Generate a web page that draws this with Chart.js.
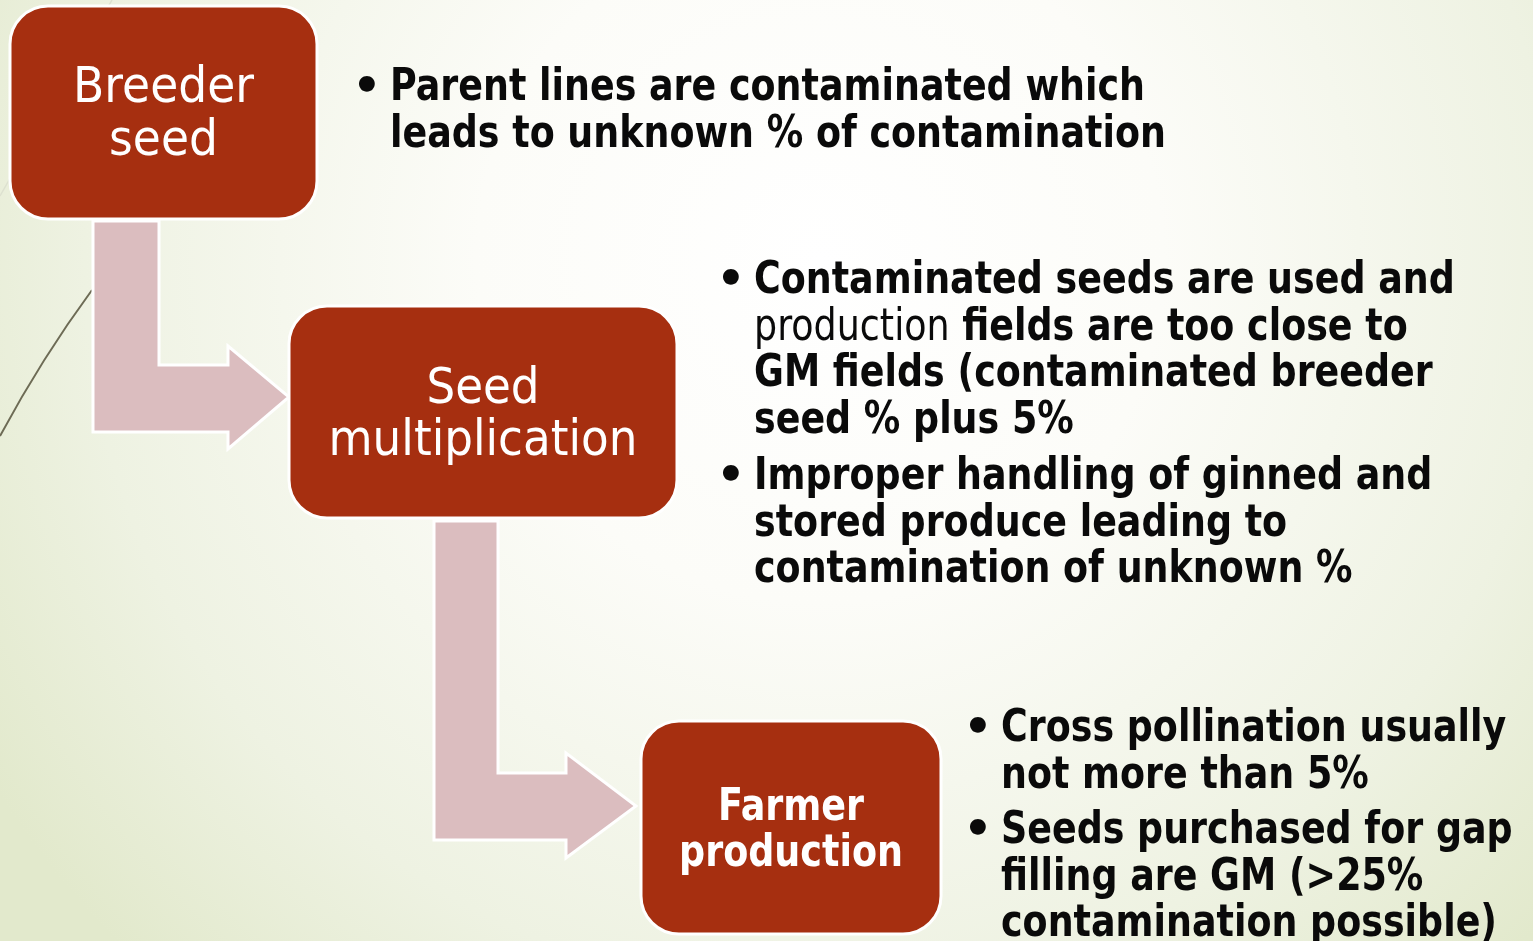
<!DOCTYPE html>
<html>
<head>
<meta charset="utf-8">
<script src="https://cdn.jsdelivr.net/npm/chart.js@4"></script>
<style>
  html, body { margin: 0; padding: 0; overflow: hidden; background: #fff; }
</style>
</head>
<body>
<canvas id="flow_Chart" width="1533" height="941"></canvas>
<script>
// labels of the three steps in the seed chain
const steps = [['Breeder', 'seed'], ['Seed', 'multiplication'], ['Farmer', 'production']];

// notes per step, one list per bullet; {..} = regular weight
const notesBreeder = [
  ['Parent lines are contaminated which', 'leads to unknown % of contamination']
];
const notesMultiplication = [
  ['Contaminated seeds are used and', '{production} fields are too close to', 'GM fields (contaminated breeder', 'seed % plus 5%'],
  ['Improper handling of ginned and', 'stored produce leading to', 'contamination of unknown %']
];
const notesFarmer = [
  ['Cross pollination usually', 'not more than 5%'],
  ['Seeds purchased for gap', 'filling are GM (>25%', 'contamination possible)']
];

const FONT = '"DejaVu Sans", sans-serif';
const RUST = '#a62f10';
const PINK = '#dbbdbf';

// layout, in axis units (1 unit = 1 px of the slide)
const boxLayout = [
  { x0: 10, y0: 6, x1: 317, y1: 219, r: 38, bold: false, size: 50, width: 181, base: [102, 155] },
  { x0: 289, y0: 306, x1: 677, y1: 518, r: 38, bold: false, size: 50, width: 309, base: [403, 455] },
  { x0: 641, y0: 721, x1: 941, y1: 934, r: 38, bold: true, size: 45, width: 224, base: [820, 866] }
];
const noteLayout = [
  { bullet: 367, x: 390, base: [[100, 147]] },
  { bullet: 731, x: 754, base: [[293, 340, 386, 433], [489, 536, 582]] },
  { bullet: 978, x: 1001, base: [[741, 788], [843, 890, 936]] }
];
const arrows = [
  [[93, 221], [159, 221], [159, 365], [228, 365], [228, 346], [289, 397], [228, 449], [228, 432], [93, 432]],
  [[434, 521], [498, 521], [498, 773], [566, 773], [566, 753], [636, 806], [566, 858], [566, 840], [434, 840]]
];

function roundRect(ctx, x0, y0, x1, y1, r) {
  ctx.beginPath();
  ctx.moveTo(x0 + r, y0);
  ctx.arcTo(x1, y0, x1, y1, r);
  ctx.arcTo(x1, y1, x0, y1, r);
  ctx.arcTo(x0, y1, x0, y0, r);
  ctx.arcTo(x0, y0, x1, y0, r);
  ctx.closePath();
}

function richLine(ctx, line, x, y, size, sx) {
  const parts = line.split(/(\{[^}]*\})/).filter(Boolean);
  ctx.save();
  ctx.translate(x, y);
  ctx.scale(sx, 1);
  let cx = 0;
  parts.forEach(function(p) {
    const plain = p.charAt(0) === '{';
    const t = plain ? p.slice(1, -1) : p;
    ctx.font = (plain ? 'normal ' : 'bold ') + size + 'px ' + FONT;
    ctx.fillText(t, cx, 0);
    cx += ctx.measureText(t).width;
  });
  ctx.restore();
}

const backgroundPlugin = {
  id: 'slideBackground',
  beforeDraw: function(chart) {
    const ctx = chart.ctx;
    const w = chart.width, h = chart.height;
    ctx.save();
    const g = ctx.createRadialGradient(820, 260, 0, 820, 260, 980);
    g.addColorStop(0, '#ffffff');
    g.addColorStop(0.35, '#fcfcf8');
    g.addColorStop(0.75, '#eef2e2');
    g.addColorStop(1, '#e2e9cc');
    ctx.fillStyle = g;
    ctx.fillRect(0, 0, w, h);
    ctx.restore();
  }
};

const flowPlugin = {
  id: 'seedFlow',
  afterDatasetsDraw: function(chart) {
    const ctx = chart.ctx;
    const sX = chart.scales.x, sY = chart.scales.y;
    const px = function(v) { return sX.getPixelForValue(v); };
    const py = function(v) { return sY.getPixelForValue(v); };
    ctx.save();

    // thin wisp lines from the theme
    ctx.strokeStyle = '#dde1d0';
    ctx.lineWidth = 1.5;
    ctx.beginPath();
    ctx.moveTo(px(0), py(196));
    ctx.lineTo(px(112), py(0));
    ctx.stroke();
    ctx.strokeStyle = '#6d6b55';
    ctx.lineWidth = 2;
    ctx.beginPath();
    ctx.moveTo(px(0), py(436));
    ctx.quadraticCurveTo(px(42), py(358), px(92), py(290));
    ctx.stroke();

    // bent arrows
    arrows.forEach(function(pts) {
      ctx.beginPath();
      pts.forEach(function(p, i) {
        if (i === 0) ctx.moveTo(px(p[0]), py(p[1]));
        else ctx.lineTo(px(p[0]), py(p[1]));
      });
      ctx.closePath();
      ctx.fillStyle = PINK;
      ctx.fill();
      ctx.strokeStyle = '#ffffff';
      ctx.lineWidth = 3;
      ctx.lineJoin = 'miter';
      ctx.stroke();
    });

    // step boxes
    ctx.textBaseline = 'alphabetic';
    steps.forEach(function(lines, i) {
      const b = boxLayout[i];
      roundRect(ctx, px(b.x0), py(b.y0), px(b.x1), py(b.y1), b.r);
      ctx.fillStyle = RUST;
      ctx.fill();
      ctx.strokeStyle = '#ffffff';
      ctx.lineWidth = 3;
      ctx.stroke();
      const font = (b.bold ? 'bold ' : 'normal ') + b.size + 'px ' + FONT;
      ctx.font = font;
      const longest = lines.reduce(function(a, t) { return Math.max(a, ctx.measureText(t).width); }, 0);
      const sx = b.width / longest;
      const cx = px((b.x0 + b.x1) / 2);
      ctx.fillStyle = '#ffffff';
      lines.forEach(function(t, j) {
        ctx.save();
        ctx.translate(cx, py(b.base[j]));
        ctx.scale(sx, 1);
        ctx.textAlign = 'center';
        ctx.fillText(t, 0, 0);
        ctx.restore();
      });
    });

    // bullet notes
    const noteSize = 45;
    ctx.font = 'bold ' + noteSize + 'px ' + FONT;
    const noteSx = 755 / ctx.measureText(notesBreeder[0][0]).width;
    ctx.fillStyle = '#0a0a0a';
    [notesBreeder, notesMultiplication, notesFarmer].forEach(function(block, i) {
      const L = noteLayout[i];
      block.forEach(function(item, k) {
        ctx.font = 'bold ' + noteSize + 'px ' + FONT;
        ctx.textAlign = 'center';
        ctx.fillText('\u2022', px(L.bullet), py(L.base[k][0]));
        ctx.textAlign = 'left';
        item.forEach(function(line, j) {
          richLine(ctx, line, px(L.x), py(L.base[k][j]), noteSize, noteSx);
        });
      });
    });
    ctx.restore();
  }
};

var flow_Chart = new Chart('flow_Chart', {
  type: 'scatter',
  data: { datasets: [{ data: [], pointRadius: 0 }] },
  options: {
    responsive: false,
    animation: false,
    events: [],
    layout: { padding: 0 },
    plugins: { legend: { display: false }, tooltip: { enabled: false } },
    scales: {
      x: { type: 'linear', min: 0, max: 1533, display: false },
      y: { type: 'linear', min: 0, max: 941, reverse: true, display: false }
    }
  },
  plugins: [backgroundPlugin, flowPlugin]
});
</script>
</body>
</html>
